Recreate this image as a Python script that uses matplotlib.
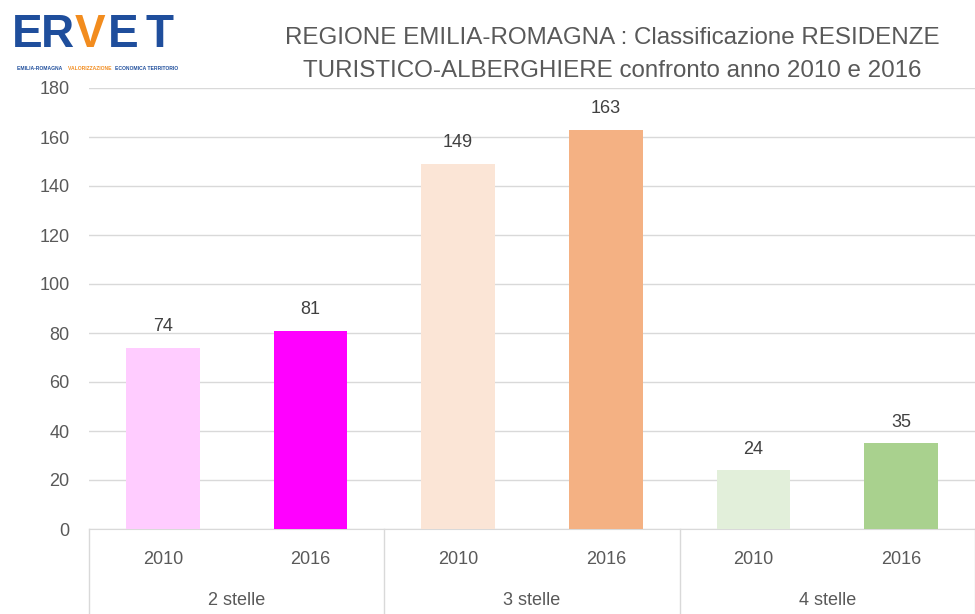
import matplotlib.pyplot as plt

# data
groups = ['2 stelle', '3 stelle', '4 stelle']
years = ['2010', '2016']
values = [74, 81, 149, 163, 24, 35]
colors = ['#FFCCFF', '#FF00FF', '#FBE5D6', '#F4B183', '#E2EFDA', '#A9D18E']
yticks = list(range(0, 181, 20))

plt.rcParams['font.family'] = ['Liberation Sans', 'DejaVu Sans']
txt = '#595959'

fig = plt.figure(figsize=(9.75, 6.14), dpi=100)
ax = fig.add_axes([89 / 975, 1 - 529 / 614, 1 - 89 / 975, (529 - 88) / 614])

x = list(range(len(values)))
bars = ax.bar(x, values, width=0.5, color=colors, zorder=3)
for b, v in zip(bars, values):
    ax.annotate(str(v), (b.get_x() + b.get_width() / 2, v), xytext=(0, 9),
                textcoords='offset points', ha='center', va='bottom',
                fontsize=13, color='#404040')

ax.set_xlim(-0.5, len(values) - 0.5)
ax.set_ylim(0, 180)
ax.set_yticks(yticks)
ax.tick_params(axis='y', length=0, pad=14, labelsize=13, labelcolor=txt)
ax.grid(axis='y', color='#D9D9D9', linewidth=1, zorder=0)
for s in ['top', 'right', 'left']:
    ax.spines[s].set_visible(False)
ax.spines['bottom'].set_color('#D9D9D9')

# two-level category axis
ax.set_xticks(x)
ax.set_xticklabels(years * len(groups))
ax.tick_params(axis='x', length=0, pad=16, labelsize=13, labelcolor=txt)
for i, g in enumerate(groups):
    ax.text(2 * i + 0.5, -0.162, g, transform=ax.get_xaxis_transform(),
            ha='center', va='center', fontsize=13, color=txt)
for i in range(len(groups) + 1):
    ax.plot([2 * i - 0.5, 2 * i - 0.5], [0, -0.2], transform=ax.get_xaxis_transform(),
            color='#D9D9D9', linewidth=1, clip_on=False)

# title
fig.text(612 / 975, 1 - 38 / 614, 'REGIONE EMILIA-ROMAGNA : Classificazione RESIDENZE',
         ha='center', va='center', fontsize=17.4, color=txt)
fig.text(612 / 975, 1 - 71 / 614, 'TURISTICO-ALBERGHIERE confronto anno 2010 e 2016',
         ha='center', va='center', fontsize=17.4, color=txt)

# logo
blue = '#1F4E9C'
orange = '#F28C1E'
logo = [('E', 27, blue), ('R', 57, blue), ('V', 90, orange), ('E', 123, blue), ('T', 159, blue)]
for ch, px, c in logo:
    fig.text(px / 975, 1 - 35 / 614, ch, ha='center', va='center', fontsize=33,
             color=c, fontweight='bold')
fig.text(17 / 975, 1 - 69 / 614, 'EMILIA-ROMAGNA ', ha='left', va='center',
         fontsize=3.6, color=blue, fontweight='bold')
fig.text(68 / 975, 1 - 69 / 614, 'VALORIZZAZIONE ', ha='left', va='center',
         fontsize=3.6, color=orange, fontweight='bold')
fig.text(115 / 975, 1 - 69 / 614, 'ECONOMICA TERRITORIO', ha='left', va='center',
         fontsize=3.6, color=blue, fontweight='bold')

fig.savefig('out.png', dpi=100)
